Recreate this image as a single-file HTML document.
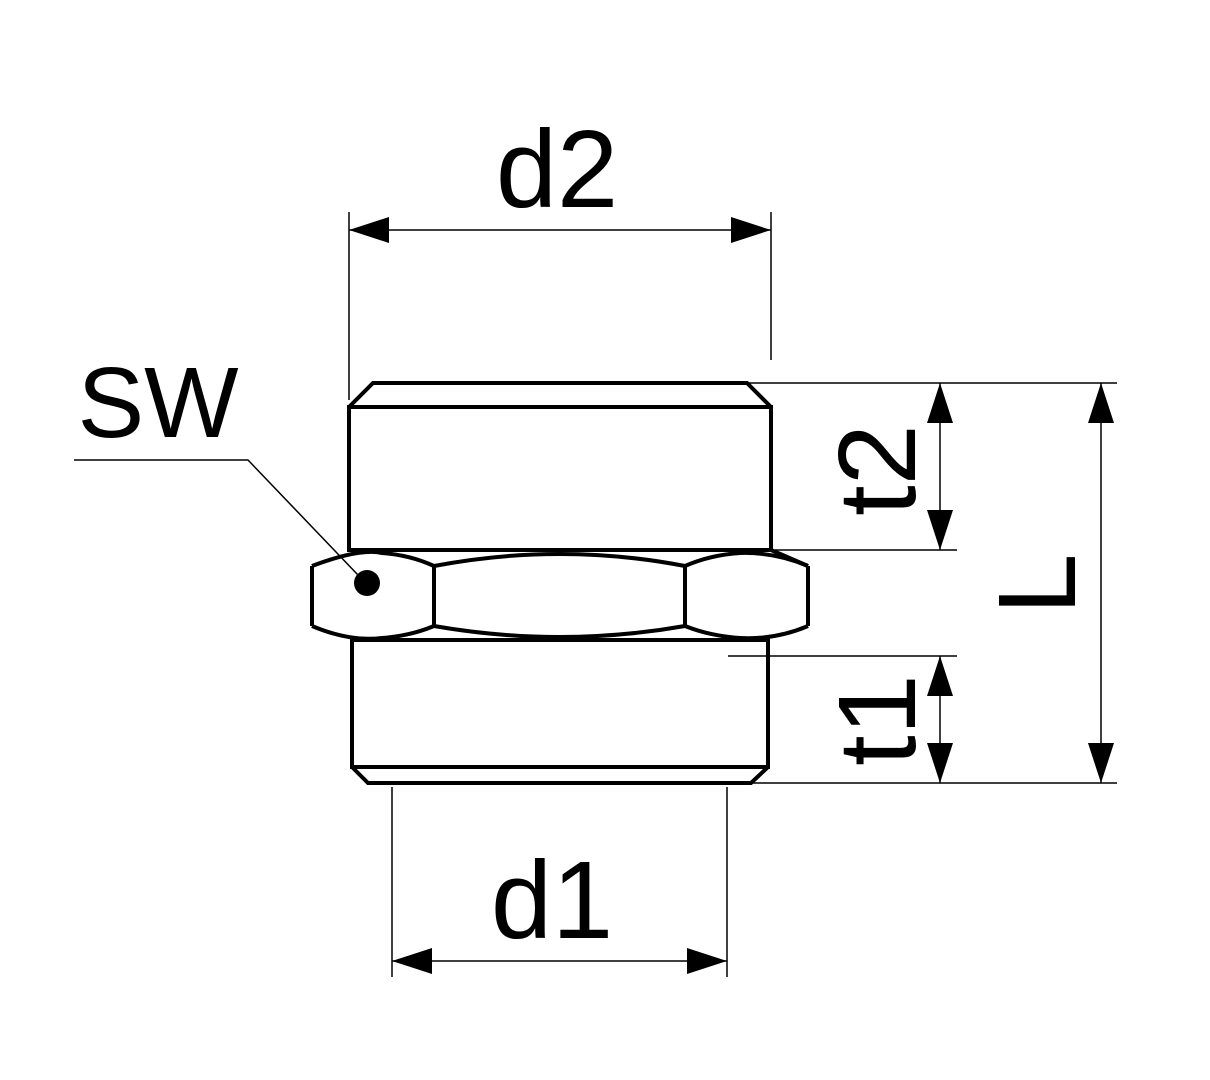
<!DOCTYPE html>
<html><head><style>html,body{margin:0;padding:0;background:#fff}svg{display:block}</style></head>
<body>
<svg width="1210" height="1080" viewBox="0 0 1210 1080" xmlns="http://www.w3.org/2000/svg">
<g stroke="#000" fill="none" stroke-width="1.5">
<line x1="349" y1="212" x2="349" y2="400"/>
<line x1="771" y1="212" x2="771" y2="360"/>
<line x1="747" y1="383" x2="1117" y2="383"/>
<line x1="775" y1="550" x2="957" y2="550"/>
<line x1="728" y1="656" x2="957" y2="656"/>
<line x1="751" y1="783" x2="1117" y2="783"/>
<line x1="392" y1="787" x2="392" y2="977"/>
<line x1="727" y1="787" x2="727" y2="977"/>
<line x1="349" y1="230" x2="771" y2="230"/>
<line x1="940" y1="383" x2="940" y2="550"/>
<line x1="940" y1="656" x2="940" y2="783"/>
<line x1="1101" y1="383" x2="1101" y2="783"/>
<line x1="392" y1="961" x2="727" y2="961"/>
<polyline points="74,460 248,460 358,575"/>
</g>
<g fill="#000">
<polygon points="349,230 389,217 389,243"/>
<polygon points="771,230 731,217 731,243"/>
<polygon points="940,383 927,423 953,423"/>
<polygon points="940,550 927,510 953,510"/>
<polygon points="940,656 927,696 953,696"/>
<polygon points="940,783 927,743 953,743"/>
<polygon points="1101,383 1088,423 1114,423"/>
<polygon points="1101,783 1088,743 1114,743"/>
<polygon points="392,961 432,948 432,974"/>
<polygon points="727,961 687,948 687,974"/>
<circle cx="367" cy="583" r="13"/>
</g>
<g stroke="#000" fill="none" stroke-width="4" stroke-linejoin="miter">
<polyline points="349,407 373,383 747,383 771,407"/>
<rect x="349" y="407" width="422" height="143"/>
<line x1="771" y1="550" x2="808" y2="566"/>
<path d="M312,566 L312,626"/>
<path d="M808,566 L808,626"/>
<path d="M434,566 L434,626 M685,566 L685,626"/>
<path d="M312,566 Q360,548 382,553 Q410,555 434,566"/>
<path d="M312,626 Q350,642 382,638 Q410,636 434,626"/>
<path d="M434,566 Q560,542 685,566"/>
<path d="M434,626 Q560,648 685,626"/>
<path d="M685,566 Q710,555 740,553 Q775,552 808,566"/>
<path d="M685,626 Q710,636 740,638 Q775,640 808,626"/>
<line x1="352" y1="550" x2="771" y2="550"/>
<rect x="352" y="640" width="416" height="127"/>
<polyline points="352,767 368,783 751,783 768,767"/>
</g>
<g font-family="Liberation Sans, sans-serif" font-size="110" fill="#000" text-anchor="middle">
<text x="557" y="207">d2</text>
<text x="552" y="938">d1</text>
<text x="158" y="437" font-size="100">SW</text>
<text transform="translate(1075,584) rotate(-90)">L</text>
<text transform="translate(915,470) rotate(-90)">t2</text>
<text transform="translate(915,720) rotate(-90)">t1</text>
</g>
</svg>
</body></html>
